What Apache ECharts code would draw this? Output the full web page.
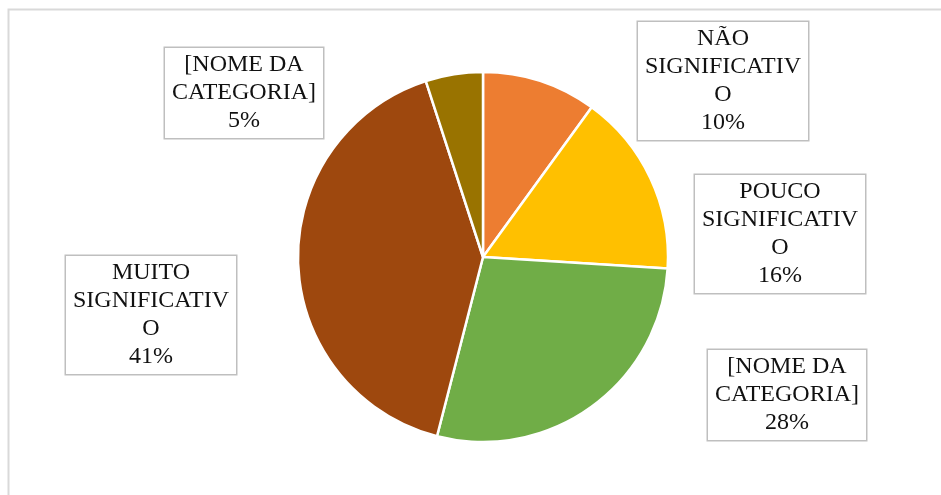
<!DOCTYPE html>
<html>
<head>
<meta charset="utf-8">
<script src="https://cdn.jsdelivr.net/npm/echarts@6/dist/echarts.min.js"></script>
<style>
  html, body { margin: 0; padding: 0; background: #fff; }
  #chart { width: 941px; height: 495px; }
</style>
</head>
<body>
<div id="chart"></div>
<script>
// Survey answers and their shares (%)
const categories = [
  'NÃO SIGNIFICATIVO',
  'POUCO SIGNIFICATIVO',
  '[NOME DA CATEGORIA]',
  'MUITO SIGNIFICATIVO',
  '[NOME DA CATEGORIA]'
];
const shares = [10, 16, 28, 41, 5];
const sliceColors = ['#ED7D31', '#FFC000', '#70AD47', '#9E480E', '#997300'];

// Where each callout box sits (centre of box)
const calloutCentres = [[723, 81], [780, 234], [787, 395], [151, 315], [244, 93]];

const LABEL_FONT = '24px "Liberation Serif", "Times New Roman", serif';
const MAX_LINE = 166;

// Word wrap like the office label boxes: words flow, over-long words are split by character
const measureCtx = document.createElement('canvas').getContext('2d');
measureCtx.font = LABEL_FONT;
function wrap(text) {
  const lines = [];
  let cur = '';
  text.split(' ').forEach(word => {
    const trial = cur ? cur + ' ' + word : word;
    if (measureCtx.measureText(trial).width <= MAX_LINE) { cur = trial; return; }
    if (cur) lines.push(cur);
    cur = '';
    for (const ch of word) {
      if (measureCtx.measureText(cur + ch).width > MAX_LINE && cur) { lines.push(cur); cur = ch; }
      else cur += ch;
    }
  });
  if (cur) lines.push(cur);
  return lines.join('\n');
}

const chart = echarts.init(document.getElementById('chart'));
chart.setOption({
  animation: false,
  backgroundColor: '#fff',
  graphic: [{
    type: 'rect',
    shape: { x: 8.5, y: 9.5, width: 980, height: 540 },
    style: { fill: 'none', stroke: '#d9d9d9', lineWidth: 2 },
    silent: true
  }],
  series: [{
    type: 'pie',
    center: [483, 257],
    radius: 185,
    startAngle: 90,
    clockwise: true,
    data: categories.map((name, i) => ({ name, value: shares[i], itemStyle: { color: sliceColors[i] } })),
    itemStyle: { borderColor: '#fff', borderWidth: 2.5 },
    label: {
      show: true,
      formatter: p => wrap(p.name) + '\n' + Math.round(p.percent) + '%',
      fontFamily: '"Liberation Serif", "Times New Roman", serif',
      fontSize: 24,
      lineHeight: 28,
      color: '#111',
      align: 'center',
      backgroundColor: '#fff',
      borderColor: '#bfbfbf',
      borderWidth: 1.5,
      padding: [3, 7, 3, 7]
    },
    labelLine: { show: false },
    labelLayout: p => ({
      x: calloutCentres[p.dataIndex][0],
      y: calloutCentres[p.dataIndex][1],
      align: 'center',
      verticalAlign: 'middle'
    }),
    emphasis: { disabled: true }
  }]
});
</script>
</body>
</html>
